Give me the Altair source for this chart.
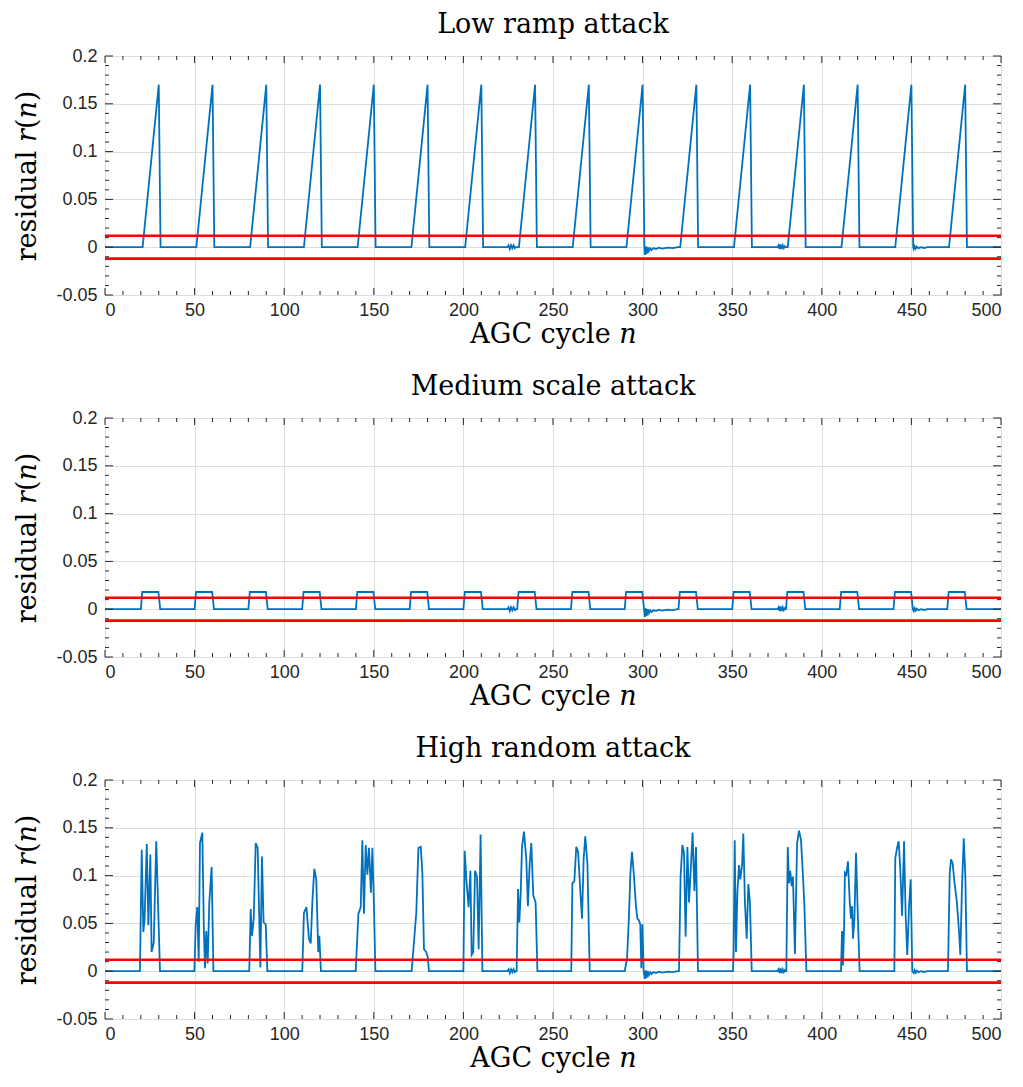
import altair as alt
import pandas as pd

# ---------------- data ----------------
burst_starts = [20, 50, 80, 110, 140, 170, 200, 230, 260, 290, 320, 350, 380, 410, 440, 470]

# low ramp attack: shape of one burst (offset from start, residual)
ramp_offsets = [1.0, 10.0, 11.0]
ramp_values = [0.0, 0.17, 0.0]

# medium scale attack: shape of one burst
step_offsets = [0.0, 0.8, 9.8, 10.8]
step_values = [0.0, 0.018, 0.018, 0.0]

# high random attack: each burst
high_n = [
    [19.5, 20.5, 21.4, 22.1, 23.3, 24.2, 25.3, 26.0, 27.2, 28.6, 30.7],
    [49.9, 50.6, 51.5, 52.3, 53.0, 54.3, 55.2, 55.8, 56.5, 57.3, 58.2, 59.5, 60.5],
    [80.5, 81.3, 82.0, 83.0, 84.1, 85.2, 86.1, 86.7, 87.6, 88.5, 89.7, 90.6],
    [110.1, 111.0, 112.4, 113.8, 114.8, 115.7, 116.8, 117.9, 119.0, 119.6, 120.5],
    [139.9, 141.4, 142.7, 143.6, 144.5, 145.5, 146.4, 147.3, 148.4, 149.2, 149.9, 150.9],
    [171.1, 172.4, 173.7, 174.9, 176.2, 177.1, 178.0, 179.3, 180.1, 180.8],
    [200.0, 200.7, 201.8, 202.9, 203.9, 204.6, 205.5, 206.5, 207.6, 208.5, 209.6, 210.6],
    [229.7, 230.5, 231.2, 232.0, 232.7, 233.8, 235.1, 236.0, 237.0, 237.9, 239.0, 240.3, 241.3],
    [260.2, 260.8, 261.9, 263.0, 264.0, 265.3, 266.2, 267.1, 268.0, 269.2, 270.5],
    [290.0, 291.3, 292.4, 293.2, 294.1, 295.2, 296.3, 297.1, 298.0, 298.7, 299.3, 299.9, 300.6],
    [320.3, 321.2, 322.2, 323.1, 324.0, 325.0, 325.9, 327.0, 327.9, 328.9, 329.8, 330.9],
    [350.4, 350.8, 351.4, 352.1, 352.9, 353.8, 354.5, 355.5, 356.2, 357.1, 358.1, 359.0, 359.9, 360.9],
    [380.2, 381.0, 381.7, 382.4, 383.2, 383.9, 385.0, 386.2, 387.3, 388.4, 389.5, 390.3, 391.4],
    [410.7, 411.3, 411.8, 412.4, 412.9, 413.7, 414.6, 415.6, 416.3, 416.9, 417.4, 418.2, 419.1, 420.0, 421.1],
    [440.5, 441.0, 442.0, 442.9, 443.8, 444.8, 445.9, 446.8, 447.7, 448.7, 449.6, 450.5],
    [470.4, 471.4, 472.1, 473.0, 474.1, 475.4, 476.6, 477.3, 478.2, 479.2, 480.1, 481.0],
]
high_r = [
    [0, 0.127, 0.041, 0.055, 0.133, 0.048, 0.122, 0.020, 0.030, 0.136, 0],
    [0, 0.048, 0.067, 0.010, 0.134, 0.145, 0.041, 0.003, 0.042, 0.008, 0.072, 0.109, 0],
    [0, 0.065, 0.037, 0.055, 0.134, 0.129, 0.053, 0.004, 0.120, 0.051, 0.049, 0],
    [0, 0.061, 0.067, 0.034, 0.029, 0.072, 0.107, 0.096, 0.020, 0.037, 0],
    [0, 0.060, 0.067, 0.137, 0.060, 0.132, 0.101, 0.129, 0.082, 0.129, 0.082, 0],
    [0, 0.030, 0.061, 0.129, 0.130, 0.103, 0.023, 0.020, 0.015, 0],
    [0, 0.126, 0.092, 0.067, 0.105, 0.017, 0.020, 0.105, 0.099, 0.023, 0.143, 0],
    [0, 0.086, 0.051, 0.082, 0.130, 0.146, 0.117, 0.068, 0.113, 0.134, 0.079, 0.072, 0],
    [0, 0.092, 0.094, 0.130, 0.125, 0.082, 0.055, 0.117, 0.141, 0.113, 0],
    [0, 0.013, 0.058, 0.103, 0.125, 0.099, 0.068, 0.055, 0.053, 0.049, 0.003, 0.049, 0],
    [0, 0.099, 0.132, 0.124, 0.036, 0.130, 0.072, 0.111, 0.145, 0.084, 0.130, 0],
    [0, 0.020, 0.137, 0.020, 0.082, 0.111, 0.096, 0.111, 0.144, 0.072, 0.034, 0.091, 0.072, 0],
    [0, 0.130, 0.092, 0.105, 0.089, 0.099, 0.018, 0.134, 0.147, 0.137, 0.099, 0.068, 0],
    [0, 0.042, 0.006, 0.044, 0.103, 0.101, 0.115, 0.072, 0.055, 0.068, 0.034, 0.055, 0.124, 0.065, 0],
    [0, 0.118, 0.129, 0.136, 0.106, 0.058, 0.136, 0.058, 0.017, 0.068, 0.096, 0],
    [0, 0.103, 0.117, 0.113, 0.092, 0.072, 0.041, 0.017, 0.086, 0.139, 0.099, 0],
]

# small disturbances common to all three runs
dist_n = [224.5, 225.2, 225.9, 226.6, 227.3, 228.0, 228.7, 229.3,
          301.3, 301.8, 302.3, 302.9, 303.5, 304.2, 305.0, 306.0, 307.5, 309.0, 311.0, 314.0, 317.0, 319.5,
          375.3, 375.9, 376.4, 377.0, 377.6, 378.2, 378.8, 379.4, 379.8,
          451.3, 451.8, 452.4, 453.0, 454.0, 455.5, 457.0, 459.0]
dist_r = [0.0, 0.002, -0.002, 0.002, -0.001, 0.002, -0.001, 0.0,
          -0.008, 0.001, -0.007, 0.0, -0.004, -0.001, -0.003, -0.001, -0.002, -0.0005, -0.0015, -0.0005, -0.001, 0.0,
          0.0, 0.002, -0.002, 0.003, -0.002, 0.002, -0.001, 0.001, 0.0,
          -0.002, 0.001, -0.0015, 0.0005, -0.001, 0.0, -0.0008, 0.0]

threshold = [0.012, -0.012]

x_major = [0, 50, 100, 150, 200, 250, 300, 350, 400, 450, 500]
y_major = [-0.05, 0.0, 0.05, 0.1, 0.15, 0.2]
x_minor = [v for v in range(0, 501, 10) if v % 50 != 0]
y_minor = [round(-0.05 + 0.01 * i, 2) for i in range(26) if i % 5 != 0]

titles = ["Low ramp attack", "Medium scale attack", "High random attack"]

# ---------------- build series ----------------
def assemble(ns, rs):
    pts = [(0.0, 0.0), (500.0, 0.0)] + list(zip(dist_n, dist_r)) + list(zip(ns, rs))
    pts.sort(key=lambda p: p[0])
    return pd.DataFrame({"n": [p[0] for p in pts], "r": [p[1] for p in pts]})

low_n, low_r, med_n, med_r, hi_n, hi_r = [], [], [], [], [], []
for s in burst_starts:
    low_n += [s + o for o in ramp_offsets]
    low_r += ramp_values
    med_n += [s + o for o in step_offsets]
    med_r += step_values
for ns, rs in zip(high_n, high_r):
    hi_n += ns
    hi_r += rs

frames = [assemble(low_n, low_r), assemble(med_n, med_r), assemble(hi_n, hi_r)]

W, H = 896, 239
BLUE = "#0072BD"
RED = "#FF0000"
FRAME = "#262626"

xs = alt.Scale(domain=[0, 500], nice=False, zero=False)
ys = alt.Scale(domain=[-0.05, 0.2], nice=False, zero=False)

x_axis = alt.Axis(values=x_major, title="AGC cycle 𝑛", grid=True, ticks=False, domain=False,
                  labelPadding=6, titlePadding=2)
y_axis = alt.Axis(values=y_major, title="residual 𝑟(𝑛)", grid=True, ticks=False, domain=False,
                  labelPadding=8, titlePadding=14,
                  labelExpr="datum.value < 0 ? '-' + format(-datum.value, '~g') : format(datum.value, '~g')")

xmaj_df = pd.DataFrame({"n": x_major})
xmin_df = pd.DataFrame({"n": x_minor})
ymaj_df = pd.DataFrame({"r": y_major})
ymin_df = pd.DataFrame({"r": y_minor})
thr_df = pd.DataFrame({"r": threshold})


def tick_layers():
    layers = []
    for df, L in [(xmaj_df, 7), (xmin_df, 4)]:
        layers.append(alt.Chart(df).mark_rule(color=FRAME, strokeWidth=1).encode(
            x=alt.X("n:Q", scale=xs), y=alt.value(H), y2=alt.value(H - L)))
        layers.append(alt.Chart(df).mark_rule(color=FRAME, strokeWidth=1).encode(
            x=alt.X("n:Q", scale=xs), y=alt.value(0), y2=alt.value(L)))
    for df, L in [(ymaj_df, 8), (ymin_df, 4)]:
        layers.append(alt.Chart(df).mark_rule(color=FRAME, strokeWidth=1).encode(
            y=alt.Y("r:Q", scale=ys), x=alt.value(0), x2=alt.value(L)))
        layers.append(alt.Chart(df).mark_rule(color=FRAME, strokeWidth=1).encode(
            y=alt.Y("r:Q", scale=ys), x=alt.value(W), x2=alt.value(W - L)))
    return layers


def panel(df, title):
    line = alt.Chart(df).mark_line(color=BLUE, strokeWidth=1.8).encode(
        x=alt.X("n:Q", scale=xs, axis=x_axis),
        y=alt.Y("r:Q", scale=ys, axis=y_axis),
    )
    thr = alt.Chart(thr_df).mark_rule(color=RED, strokeWidth=2.6).encode(
        y=alt.Y("r:Q", scale=ys))
    return alt.layer(line, thr, *tick_layers()).properties(
        width=W, height=H,
        title=alt.TitleParams(title, anchor="middle", offset=8))


chart = alt.vconcat(*[panel(f, t) for f, t in zip(frames, titles)], spacing=24).properties(
    padding={"left": 5, "top": 2, "right": 5, "bottom": 5},
    background="white",
).configure_view(
    stroke=FRAME, strokeWidth=1
).configure_axis(
    labelFont="Liberation Sans", labelFontSize=18, labelColor=FRAME,
    titleFont="DejaVu Serif", titleFontSize=27, titleFontWeight="normal", titleColor="black",
    gridColor="#dedede", gridWidth=1,
).configure_title(
    font="DejaVu Serif", fontSize=27, fontWeight="normal", color="black"
)

chart.save("out.html", embed_options={"renderer": "svg", "actions": False})
